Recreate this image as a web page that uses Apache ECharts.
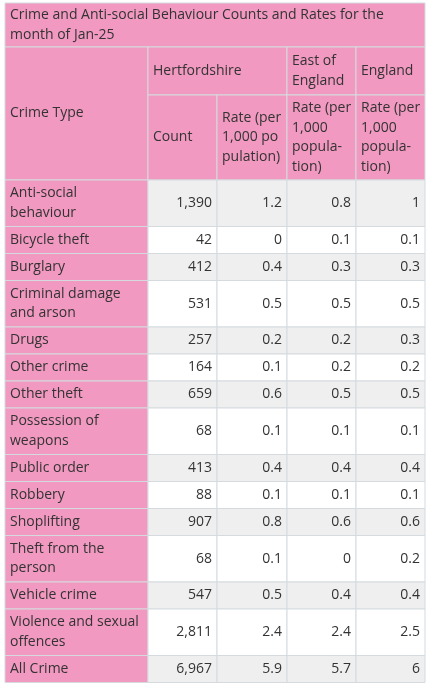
<!DOCTYPE html>
<html>
<head>
<meta charset="utf-8">
<script src="https://cdn.jsdelivr.net/npm/echarts@6/dist/echarts.min.js"></script>
<style>html,body{margin:0;padding:0;background:#fff}#chart{width:431px;height:685px}</style>
</head>
<body>
<div id="chart"></div>
<script>
var titleText = 'Crime and Anti-social Behaviour Counts and Rates for the\nmonth of Jan-25';
var crimeTypes = ['Anti-social\nbehaviour', 'Bicycle theft', 'Burglary', 'Criminal damage\nand arson', 'Drugs',
    'Other crime', 'Other theft', 'Possession of\nweapons', 'Public order', 'Robbery', 'Shoplifting',
    'Theft from the\nperson', 'Vehicle crime', 'Violence and sexual\noffences', 'All Crime'];
var hertsCount = ['1,390', '42', '412', '531', '257', '164', '659', '68', '413', '88', '907', '68', '547', '2,811', '6,967'];
var hertsRate = [1.2, 0, 0.4, 0.5, 0.2, 0.1, 0.6, 0.1, 0.4, 0.1, 0.8, 0.1, 0.5, 2.4, 5.9];
var eastRate = [0.8, 0.1, 0.3, 0.5, 0.2, 0.2, 0.5, 0.1, 0.4, 0.1, 0.6, 0, 0.4, 2.4, 5.7];
var englandRate = [1, 0.1, 0.3, 0.5, 0.3, 0.2, 0.5, 0.1, 0.4, 0.1, 0.6, 0.2, 0.4, 2.5, 6];

var PINK = '#f299c1', GREY = '#efefef', WHITE = '#ffffff', BORDER = '#d5dadf';
var colEdges = [5, 148, 217, 287, 356, 425];

// build cells: [x0, x1, y0, y1, fill, text, align]
var cells = [];
var y = 3;
cells.push([colEdges[0], colEdges[5], y, 47, PINK, titleText, 'left']);
cells.push([colEdges[0], colEdges[1], 47, 180, PINK, 'Crime Type', 'left']);
cells.push([colEdges[1], colEdges[3], 47, 95, PINK, 'Hertfordshire', 'left']);
cells.push([colEdges[3], colEdges[4], 47, 95, PINK, 'East of\nEngland', 'left']);
cells.push([colEdges[4], colEdges[5], 47, 95, PINK, 'England', 'left']);
cells.push([colEdges[1], colEdges[2], 95, 180, PINK, 'Count', 'left']);
cells.push([colEdges[2], colEdges[3], 95, 180, PINK, 'Rate (per\n1,000 po\npulation)', 'left']);
cells.push([colEdges[3], colEdges[4], 95, 180, PINK, 'Rate (per\n1,000\npopula-\ntion)', 'left']);
cells.push([colEdges[4], colEdges[5], 95, 180, PINK, 'Rate (per\n1,000\npopula-\ntion)', 'left']);
y = 180;
crimeTypes.forEach(function (name, i) {
    var h = name.indexOf('\n') >= 0 ? 46.5 : 27;
    var bg = i % 2 === 0 ? GREY : WHITE;
    var vals = [hertsCount[i], hertsRate[i], eastRate[i], englandRate[i]];
    cells.push([colEdges[0], colEdges[1], y, y + h, PINK, name, 'left']);
    vals.forEach(function (v, j) {
        cells.push([colEdges[j + 1], colEdges[j + 2], y, y + h, bg, String(v), 'right']);
    });
    y += h;
});

var chart = echarts.init(document.getElementById('chart'));
chart.setOption({
    animation: false,
    grid: { left: 0, right: 0, top: 0, bottom: 0 },
    xAxis: { type: 'value', min: 0, max: 431, show: false },
    yAxis: { type: 'value', min: 0, max: 685, inverse: true, show: false },
    series: [{
        type: 'custom',
        data: cells,
        dimensions: ['x0', 'x1', 'y0', 'y1', 'fill', 'text', 'align'],
        encode: { x: [0, 1], y: [2, 3] },
        renderItem: function (params, api) {
            var d = cells[params.dataIndex];
            var p0 = api.coord([d[0], d[2]]);
            var p1 = api.coord([d[1], d[3]]);
            var left = d[6] === 'left';
            return {
                type: 'group',
                children: [{
                    type: 'rect',
                    shape: { x: p0[0], y: p0[1], width: p1[0] - p0[0], height: p1[1] - p0[1] },
                    style: { fill: d[4], stroke: BORDER, lineWidth: 1 }
                }, {
                    type: 'text',
                    style: {
                        text: d[5],
                        x: left ? p0[0] + 5 : p1[0] - 5,
                        y: (p0[1] + p1[1]) / 2,
                        align: d[6],
                        verticalAlign: 'middle',
                        fill: '#333333',
                        font: '14px "Open Sans", sans-serif',
                        lineHeight: 19.5
                    }
                }]
            };
        }
    }]
});
</script>
</body>
</html>
